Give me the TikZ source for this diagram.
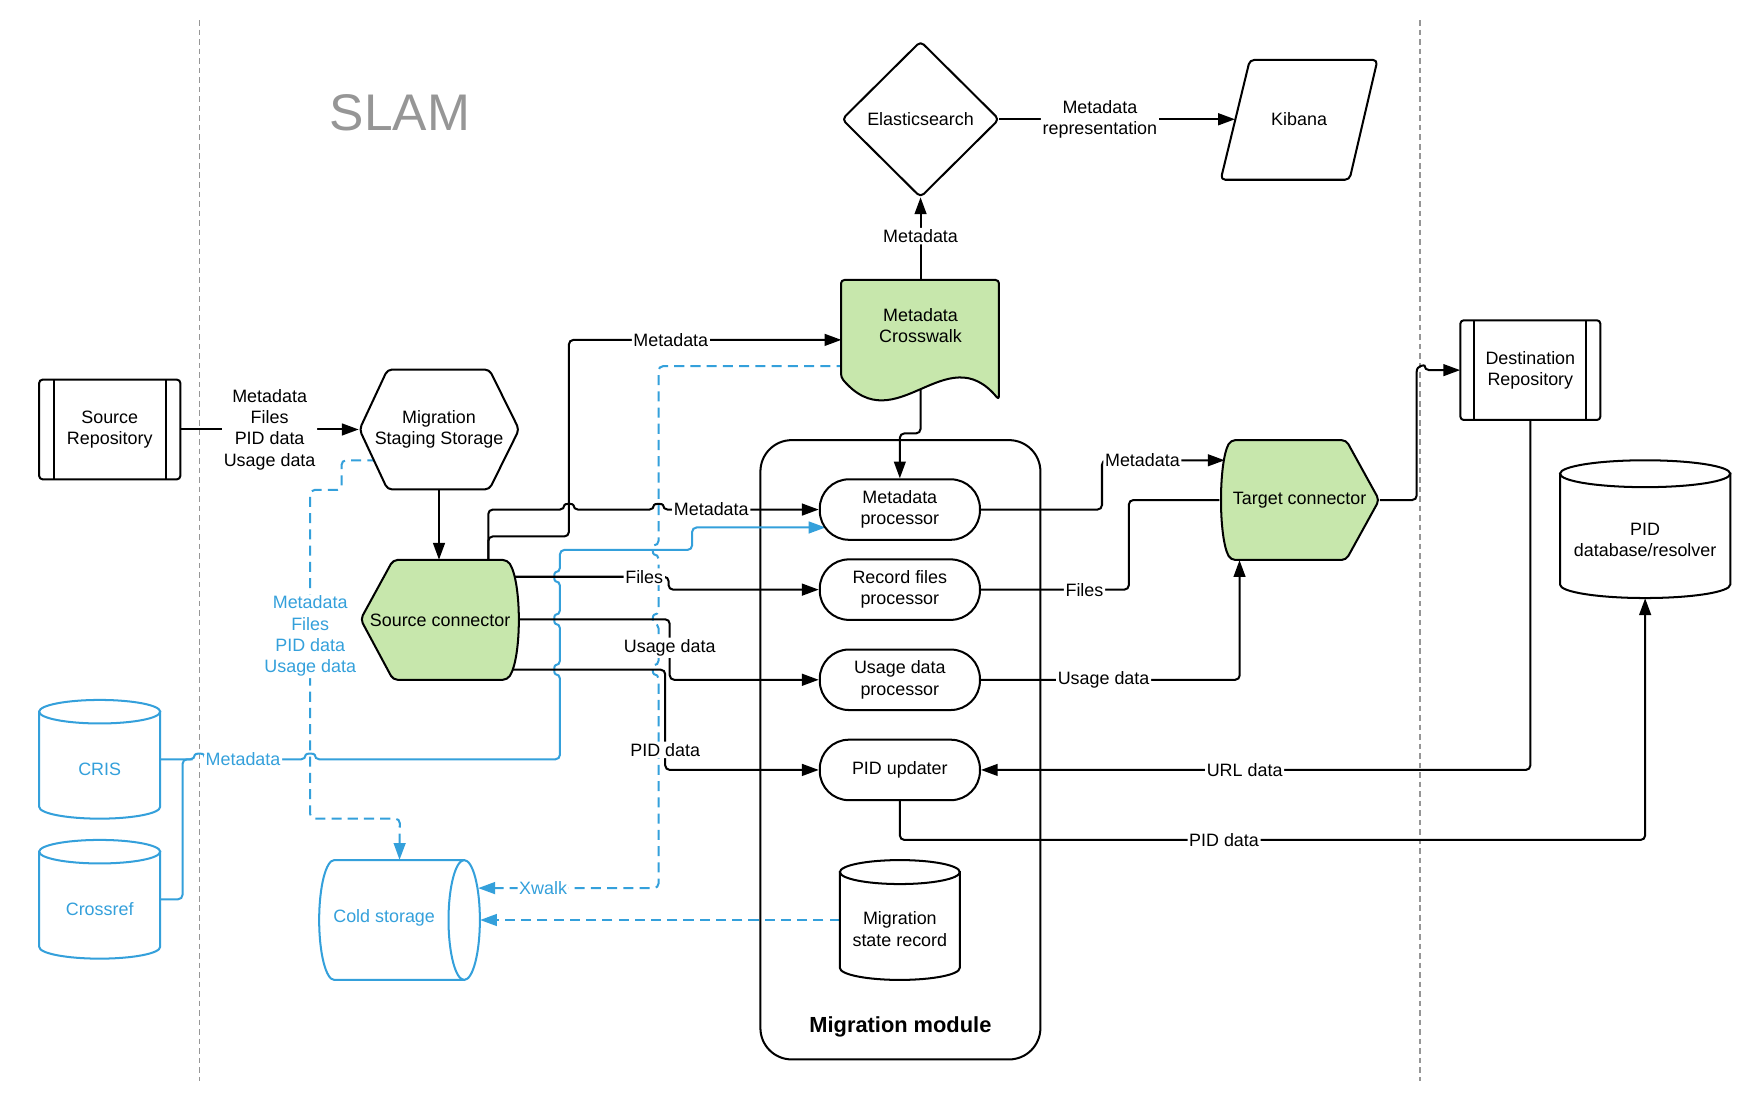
\documentclass[tikz,border=0pt]{standalone}
\usepackage{fontspec}
\setmainfont{Liberation Sans}
\usetikzlibrary{arrows.meta,calc}
\definecolor{lgreen}{RGB}{199,231,172}
\definecolor{lblue}{RGB}{52,160,219}
\definecolor{sepgray}{RGB}{150,150,150}
\pgfdeclarelayer{back}
\pgfdeclarelayer{conn}
\pgfsetlayers{back,conn,main}
% vertical cylinder: L, R, T, B, ry, style
\newcommand{\VCyl}[6]{%
  \pgfmathsetmacro{\cyCx}{(#1+#2)/2}%
  \pgfmathsetmacro{\cyRx}{(#2-#1)/2}%
  \pgfmathsetmacro{\cyKx}{0.5523*\cyRx}%
  \pgfmathsetmacro{\cyKy}{0.5523*#5}%
  \pgfmathsetmacro{\cyTc}{#3+#5}%
  \pgfmathsetmacro{\cyBc}{#4-#5}%
  \pgfmathsetmacro{\cyBk}{\cyBc+\cyKy}%
  \pgfmathsetmacro{\cyLk}{\cyCx-\cyKx}%
  \pgfmathsetmacro{\cyRk}{\cyCx+\cyKx}%
  \draw[#6] (#1,\cyTc) -- (#1,\cyBc) .. controls (#1,\cyBk) and (\cyLk,#4) .. (\cyCx,#4) .. controls (\cyRk,#4) and (#2,\cyBk) .. (#2,\cyBc) -- (#2,\cyTc) -- cycle;
  \draw[#6] (\cyCx,\cyTc) ellipse [x radius=\cyRx, y radius=#5];
}
\begin{document}
\begin{tikzpicture}[x=1pt,y=-1pt,
  every node/.style={font=\fontsize{16}{19}\selectfont, align=center, inner sep=0pt},
  box/.style 2 args={minimum width=#1, minimum height=#2},
  shp/.style={draw=black, line width=1.8pt, fill=white, rounded corners=4pt, line join=round},
  gshp/.style={shp, fill=lgreen},
  cylk/.style={draw=black, line width=1.8pt, fill=white},
  cylb/.style={draw=lblue, line width=1.8pt, fill=white},
  proc/.style={draw=black, line width=1.8pt, fill=white, rounded corners=26pt, minimum width=143, minimum height=54},
  conn/.style={draw=black, line width=1.8pt, rounded corners=4pt},
  arr/.style={conn, -{Triangle[length=15pt,width=10.5pt]}},
  barr/.style={conn, draw=lblue, -{Triangle[length=15pt,width=10.5pt]}},
  bdash/.style={barr, dash pattern=on 9pt off 5.5pt},
  lbl/.style={fill=white, inner sep=1.5pt},
  blbl/.style={lbl, text=lblue},
  sep/.style={draw=sepgray, line width=1.5pt, dash pattern=on 5pt off 3.5pt}
]
\useasboundingbox (0,0) rectangle (1568,982);

\begin{pgfonlayer}{back}
  \fill[white] (0,0) rectangle (1568,982);
  \draw[sep] (178,18) -- (178,965);
  \draw[sep] (1268,18) -- (1268,965);
  \node[draw, line width=1.8pt, rounded corners=28pt, box={250}{553}, fill=white] (mm) at (804,669.5) {};
\end{pgfonlayer}

% ---------- shapes ----------
\node[text=sepgray, font=\fontsize{46}{50}\selectfont] (slam) at (357,101) {SLAM};
\node[font=\bfseries\fontsize{19.5}{23}\selectfont] (mml) at (804,917) {Migration module};

% Source Repository
\draw[shp, rounded corners=3pt] (35,339) rectangle (161,428);
\draw[line width=1.8pt] (48,339) -- (48,428) (148,339) -- (148,428);
\node[box={126}{89}] (src) at (98,383.5) {Source\\Repository};

% Migration Staging Storage
\draw[shp] (321,383.5) -- (346,330) -- (437,330) -- (463.5,383.5) -- (437,437) -- (346,437) -- cycle;
\node[box={143}{107}] (mss) at (392,383.5) {Migration\\Staging Storage};
\coordinate (mssBL) at (337,411);

% Source connector
\draw[gshp] (322,553) -- (351,500) -- (453,500) .. controls (466,520) and (466,587) .. (453,607) -- (351,607) -- cycle;
\node[box={143}{107}] (sc) at (393,553.5) {Source connector};
\coordinate (scTop) at (436,505);
\coordinate (scF) at (452,515);
\coordinate (scU) at (455,553);
\coordinate (scP) at (452,598);

% Metadata Crosswalk
\draw[gshp, rounded corners=3pt] (751,300) -- (751,250) -- (892,250) -- (892,357) .. controls (845,300) and (800,395) .. (751,337) -- cycle;
\node[box={141}{107}] (cw) at (822,303.5) {};
\node (cwt) at (822,291) {Metadata\\Crosswalk};
\coordinate (cwB) at (822,340);
\coordinate (cwX) at (756,327);

% Elasticsearch
\draw[shp] (822,37) -- (892,106.5) -- (822,176) -- (752,106.5) -- cycle;
\node[box={140}{139}] (es) at (822,106.5) {Elasticsearch};

% Kibana
\draw[shp] (1116,53.5) -- (1230,53.5) -- (1205,160.5) -- (1090,160.5) -- cycle;
\node[box={114}{107}] (kib) at (1160,106.5) {Kibana};

% processors
\node[proc] (mp) at (803.5,455) {Metadata\\processor};
\node[proc] (rfp) at (803.5,526.5) {Record files\\processor};
\node[proc] (udp) at (803.5,607) {Usage data\\processor};
\node[proc] (pidu) at (803.5,687.5) {PID updater};
\coordinate (mpB) at ($(mp.west)+(6,16)$);

% Migration state record
\VCyl{750}{857}{768}{875}{10.7}{cylk}
\node[box={107}{107}] (msr) at (803.5,821.5) {};
\node (msrt) at (803.5,829.5) {Migration\\state record};

% Target connector
\draw[gshp] (1150,393) -- (1202,393) -- (1231.5,446.5) -- (1202,500) -- (1099,500) .. controls (1088,480) and (1088,413) .. (1099,393) -- cycle;
\node[box={143}{107}] (tc) at (1160.5,446.5) {Target connector};
\coordinate (tcM) at (1093.5,411);

% Destination Repository
\draw[shp, rounded corners=3pt] (1304,286) rectangle (1429,375);
\draw[line width=1.8pt] (1316,286) -- (1316,375) (1416,286) -- (1416,375);
\node[box={125}{89}] (dr) at (1366.5,330.5) {Destination\\Repository};

% PID database
\VCyl{1393}{1545}{411}{534}{12}{cylk}
\node[box={152}{123}] (pid) at (1469,472.5) {};
\node (pidt) at (1469,482) {PID\\database/resolver};

% CRIS, Crossref
\VCyl{35}{143}{625}{731}{10.5}{cylb}
\node[box={108}{106}] (cris) at (89,678) {};
\node[text=lblue] (crist) at (89,687) {CRIS};
\VCyl{35}{143}{750}{856}{10.5}{cylb}
\node[box={108}{106}] (xref) at (89,803) {};
\node[text=lblue] (xreft) at (89,812) {Crossref};

% Cold storage
\draw[cylb] (298.5,768) -- (414.5,768) -- (414.5,875) -- (298.5,875) .. controls (291,875) and (285,851) .. (285,821.5) .. controls (285,792) and (291,768) .. (298.5,768) -- cycle;
\draw[cylb] (414.5,821.5) ellipse [x radius=14, y radius=53.5];
\node[box={143.5}{107}] (cold) at (356.75,821.5) {};
\node[text=lblue] (coldt) at (343,820) {Cold storage};
\coordinate (coldX) at (427,793);

% ---------- connectors ----------
\begin{pgfonlayer}{conn}
  % blue dashed
  \draw[bdash] (mssBL) -- (305,411) -- (305,437.5) -- (277,437.5) -- node[blbl, pos=0.445] (lstage) {Metadata\\Files\\PID data\\Usage data} (277,731) -- (357,731) -- (cold.north);
  \draw[bdash] (cwX) -- (588,327) -- (588,487) .. controls (582.5,487) and (582.5,495) .. (588,495) -- (588,549) .. controls (582.5,549) and (582.5,557) .. (588,557) -- (588,594) .. controls (582.5,594) and (582.5,602) .. (588,602) -- (588,793) -- node[blbl, pos=0.64] (lxw) {Xwalk} (coldX);
  \draw[bdash] (msr.west) -- (cold.east);
  % blue solid
  \draw[barr] (cris.east) -- (174,678) .. controls (174,672.5) and (182,672.5) .. (182,678) -- node[blbl, pos=0.385] (lcris) {Metadata} (273,678) .. controls (273,672.5) and (281,672.5) .. (281,678) -- (500,678) -- (500,602) .. controls (494.5,602) and (494.5,594) .. (500,594) -- (500,557) .. controls (494.5,557) and (494.5,549) .. (500,549) -- (500,519) .. controls (494.5,519) and (494.5,511) .. (500,511) -- (500,491) -- (618,491) -- (618,471) -- (mpB);
  \draw[conn, draw=lblue] (xref.east) -- (163,803) -- (163,678) -- (172,678);
  % black
  \draw[arr] (src.east) -- node[lbl] (lsrc) {Metadata\\Files\\PID data\\Usage data} (mss.west);
  \draw[arr] (mss.south) -- (mss.south |- sc.north);
  \draw[arr] (scTop) -- (436,479) -- (508,479) -- (508,303.5) -- node[lbl, pos=0.374] (lmd1) {Metadata} (cw.west);
  \draw[arr] (scTop) -- (436,455) -- (504,455) .. controls (504,449.5) and (512,449.5) .. (512,455) -- (584,455) .. controls (584,449.5) and (592,449.5) .. (592,455) -- node[lbl, pos=0.31] (lmd2) {Metadata} (mp.west);
  \draw[arr] (cwB) -- (822,387) -- (803.5,387) -- (mp.north);
  \draw[arr] (cw.north) -- node[lbl, pos=0.53] (lmd4) {Metadata} (es.south);
  \draw[arr] (es.east) -- node[lbl, pos=0.427] (lrep) {Metadata\\representation} (kib.west);
  \draw[arr] (scF) -- node[lbl, pos=0.85] (lf1) {Files} (597,515) -- (597,526.5) -- (rfp.west);
  \draw[arr] (scU) -- (598,553) -- node[lbl, pos=0.47] (lu1) {Usage data} (598,607) -- (udp.west);
  \draw[arr] (scP) -- (594,598) -- node[lbl, pos=0.8] (lp1) {PID data} (594,687.5) -- (pidu.west);
  \draw[arr] (mp.east) -- (984,455) -- (984,411) -- node[lbl, pos=0.33] (lmd3) {Metadata} (tcM);
  \draw[conn] (rfp.east) -- node[lbl, pos=0.7] (lf2) {Files} (1008,526.5) -- (1008,446.5) -- (tc.west);
  \draw[arr] (udp.east) -- node[lbl, pos=0.474] (lu2) {Usage data} (1107,607) -- ($(tc.south west)+(18,0)$);
  \draw[arr] (tc.east) -- (1265,446.5) -- (1265,336) .. controls (1265,326) and (1272,326) .. (1272,330.5) -- (dr.west);
  \draw[arr] (dr.south) -- (1366.5,687.5) -- node[lbl, pos=0.52] (lurl) {URL data} (pidu.east);
  \draw[arr] (pidu.south) -- (803.5,750) -- node[lbl, pos=0.435] (lpid2) {PID data} (1469,750) -- (pid.south);
\end{pgfonlayer}
\end{tikzpicture}
\end{document}
